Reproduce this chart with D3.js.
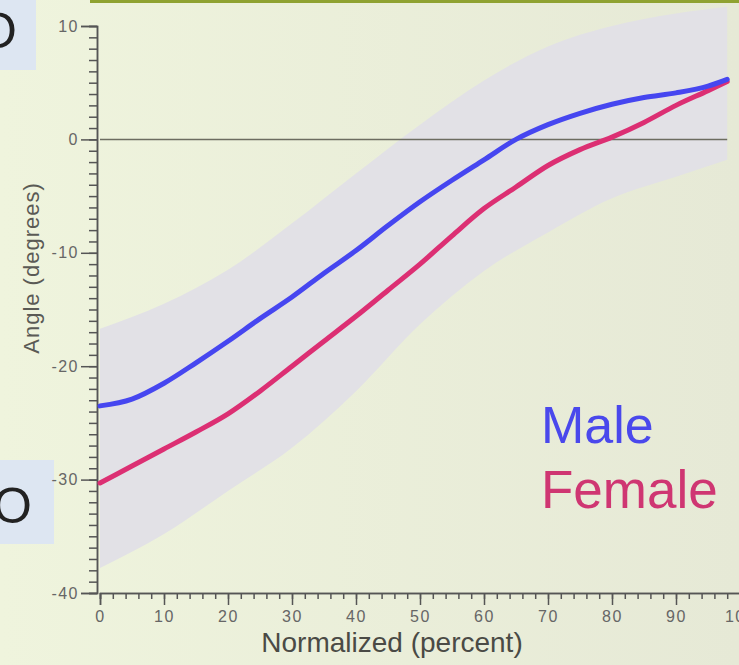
<!DOCTYPE html>
<html>
<head>
<meta charset="utf-8">
<script src="https://cdn.jsdelivr.net/npm/d3@7"></script>
<style>
  body { margin: 0; background: #edf1da; overflow: hidden; }
  svg { display: block; font-family: "Liberation Sans", Arial, sans-serif; }
</style>
</head>
<body>
<div id="chart"></div>
<script>

// percent of normalized cycle
const pct = [0, 5, 10, 15, 20, 25, 30, 35, 40, 45, 50, 55, 60, 65, 70, 75, 80, 85, 90, 95, 98];
const male = [-23.5, -22.9, -21.5, -19.7, -17.8, -15.8, -13.9, -11.8, -9.8, -7.6, -5.5, -3.6, -1.8, 0.0, 1.3, 2.3, 3.1, 3.7, 4.1, 4.7, 5.3];
const female = [-30.3, -28.8, -27.3, -25.8, -24.2, -22.2, -20.0, -17.8, -15.6, -13.3, -11.0, -8.5, -6.1, -4.2, -2.3, -0.9, 0.2, 1.5, 3.0, 4.3, 5.1];

// shaded range
const bandPct = [0, 10, 20, 30, 40, 50, 60, 70, 80, 90, 98];
const bandUpper = [-16.7, -14.5, -11.5, -7.4, -3.0, 1.3, 5.2, 8.2, 10.0, 11.1, 11.7];
const bandLower = [-37.8, -34.8, -31.0, -27.2, -22.2, -16.3, -11.6, -8.2, -5.2, -3.3, -1.8];

const yTicks = [-40, -30, -20, -10, 0, 10];
const xTicks = [0, 10, 20, 30, 40, 50, 60, 70, 80, 90, 100];
const legend = [{name: "Male", color: "#4a48ec", size: 52}, {name: "Female", color: "#cf3672", size: 53}];

const width = 739, height = 665;

const svg = d3.select("#chart").append("svg")
    .attr("width", width)
    .attr("height", height);

// background of the slide
const grad = svg.append("defs").append("linearGradient")
    .attr("id", "bg").attr("x1", 0).attr("x2", 1).attr("y1", 0).attr("y2", 0);
grad.append("stop").attr("offset", 0).attr("stop-color", "#eff4dd");
grad.append("stop").attr("offset", 1).attr("stop-color", "#e6e9d6");
svg.append("rect").attr("width", width).attr("height", height).attr("fill", "url(#bg)");

// bits of the slide around the chart
svg.append("rect").attr("x", 90).attr("y", 0).attr("width", 649).attr("height", 3).attr("fill", "#8fa231");
svg.append("rect").attr("x", 0).attr("y", 0).attr("width", 36).attr("height", 70).attr("fill", "#dde6f2");
svg.append("rect").attr("x", 0).attr("y", 460).attr("width", 54).attr("height", 84).attr("fill", "#dde6f2");
svg.append("text").attr("x", -22).attr("y", 48).attr("font-size", 50).attr("fill", "#222").text("O");
svg.append("text").attr("x", -7).attr("y", 523).attr("font-size", 50).attr("fill", "#222").text("O");

const x = d3.scaleLinear().domain([0, 100]).range([100, 740]);
const y = d3.scaleLinear().domain([-40, 10]).range([593, 26]);

// band
const area = d3.area()
    .x((d, i) => x(bandPct[i]))
    .y0((d, i) => y(bandLower[i]))
    .y1((d, i) => y(bandUpper[i]))
    .curve(d3.curveMonotoneX);

svg.append("path")
    .datum(bandPct)
    .attr("d", area)
    .attr("fill", "#e2e1e6");

// zero line
svg.append("line")
    .attr("x1", x(0)).attr("x2", x(98))
    .attr("y1", y(0)).attr("y2", y(0))
    .attr("stroke", "#6c6c60")
    .attr("stroke-width", 1.5);

// axes
const yAxis = svg.append("g").attr("transform", `translate(${x(0) - 3},0)`);
yAxis.call(d3.axisLeft(y).ticks(50).tickSize(8).tickFormat(""));
yAxis.call(g => g.append("g").call(d3.axisLeft(y).tickValues(yTicks).tickSize(16).tickPadding(2).tickFormat(d => String(d))));
yAxis.selectAll(".domain").attr("stroke", "#555").attr("stroke-width", 1.5);
yAxis.selectAll("line").attr("stroke", "#555").attr("stroke-width", 1.5);
yAxis.selectAll("text").attr("fill", "#666").attr("font-size", 16).attr("letter-spacing", 1.5);

const xAxis = svg.append("g").attr("transform", `translate(0,${y(-40)})`);
xAxis.call(d3.axisBottom(x).ticks(50).tickSize(6).tickFormat(""));
xAxis.call(g => g.append("g").call(d3.axisBottom(x).tickValues(xTicks).tickSize(12).tickPadding(6).tickFormat(d => String(d))));
xAxis.selectAll(".domain").attr("stroke", "#555").attr("stroke-width", 1.5);
xAxis.selectAll("line").attr("stroke", "#555").attr("stroke-width", 1.5);
xAxis.selectAll("text").attr("fill", "#666").attr("font-size", 16).attr("letter-spacing", 1.5);

// curves
const line = d3.line()
    .x((d, i) => x(pct[i]))
    .y(d => y(d))
    .curve(d3.curveMonotoneX);

svg.append("path").datum(female).attr("d", line)
    .attr("fill", "none").attr("stroke", "#dc2f73").attr("stroke-width", 5).attr("stroke-linecap", "round");
svg.append("path").datum(male).attr("d", line)
    .attr("fill", "none").attr("stroke", "#4646f0").attr("stroke-width", 5).attr("stroke-linecap", "round");

// axis titles
svg.append("text")
    .attr("transform", `translate(39,268) rotate(-90)`)
    .attr("text-anchor", "middle")
    .attr("font-size", 22)
    .attr("letter-spacing", 1)
    .attr("fill", "#5a5a55")
    .text("Angle (degrees)");

svg.append("text")
    .attr("x", 392).attr("y", 652)
    .attr("text-anchor", "middle")
    .attr("font-size", 28)
    .attr("fill", "#4a4a45")
    .text("Normalized (percent)");

// legend
svg.selectAll(".legend")
    .data(legend)
    .join("text")
    .attr("class", "legend")
    .attr("x", 541)
    .attr("y", (d, i) => 443 + i * 65)
    .attr("font-size", d => d.size)
    .attr("fill", d => d.color)
    .text(d => d.name);

</script>
</body>
</html>
